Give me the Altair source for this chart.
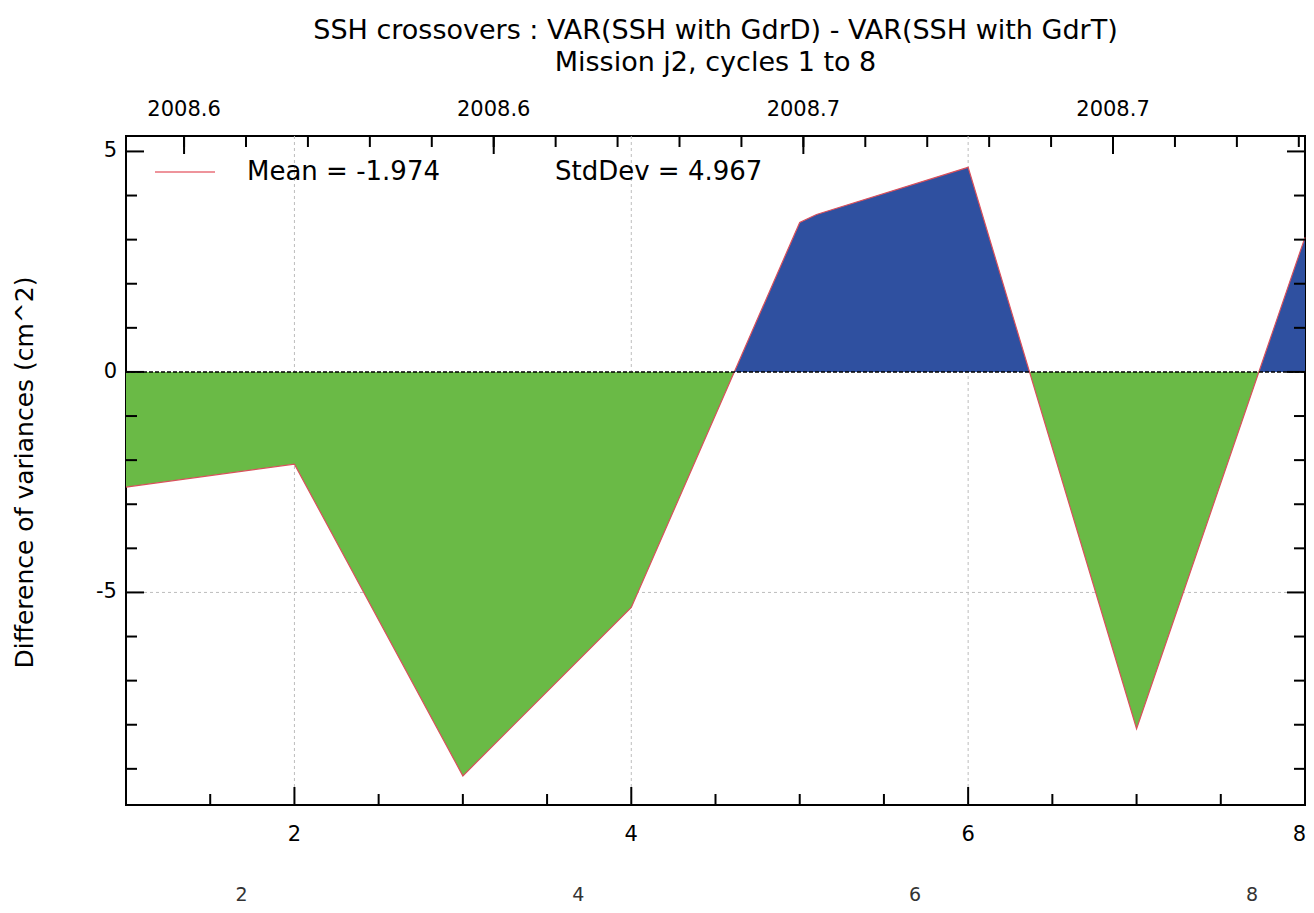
import altair as alt
import pandas as pd
import numpy as np

# ---- data ----
CYCLES = [1, 2, 3, 4, 5, 5.1, 6, 7, 8]
DIFF_VAR = [-2.61, -2.09, -9.16, -5.34, 3.39, 3.57, 4.64, -8.09, 3.05]

X_TICKS = [2, 4, 6, 8]
Y_TICKS = [-5, 0, 5]
Y_TICK_LABELS = ["-5", "0", "5"]
TOP_TICKS = [2008.58, 2008.62, 2008.66, 2008.70]   # decimal-year labels of the top axis
TOP_DOMAIN = [2008.5725, 2008.7248]                 # dates at cycle 1 and cycle 8
X_DOMAIN = [1, 8]
Y_DOMAIN = [-9.82, 5.35]

TITLE = ["SSH crossovers : VAR(SSH with GdrD) - VAR(SSH with GdrT)",
         "Mission j2, cycles 1 to 8"]
Y_TITLE = "Difference of variances (cm^2)"
MEAN_LABEL = "Mean = -1.974"
STD_LABEL = "StdDev = 4.967"

W, H = 1179, 669
FONT = "DejaVu Sans"
GREEN = "#6aba46"
BLUE = "#2f50a0"
LINE = "#d9505c"
TICK_FS = 21

# ---- split the series into positive / negative pieces at zero crossings ----
rows = []
seg = 0
for i, (x, y) in enumerate(zip(CYCLES, DIFF_VAR)):
    if i > 0:
        x0, y0 = CYCLES[i - 1], DIFF_VAR[i - 1]
        if (y0 < 0) != (y < 0):
            xc = x0 + (0 - y0) * (x - x0) / (y - y0)
            rows.append(dict(x=xc, y=0.0, seg=seg))
            seg += 1
            rows.append(dict(x=xc, y=0.0, seg=seg))
    rows.append(dict(x=x, y=y, seg=seg))
area_df = pd.DataFrame(rows)
sign = area_df.groupby("seg")["y"].agg(lambda s: "pos" if s.max() > 0 else "neg")
area_df["sign"] = area_df["seg"].map(sign)
line_df = pd.DataFrame({"x": CYCLES, "y": DIFF_VAR})


def date_to_cycle(d):
    return X_DOMAIN[0] + (d - TOP_DOMAIN[0]) / (TOP_DOMAIN[1] - TOP_DOMAIN[0]) * (X_DOMAIN[1] - X_DOMAIN[0])


xs = alt.Scale(domain=X_DOMAIN, nice=False, zero=False)
ys = alt.Scale(domain=Y_DOMAIN, nice=False, zero=False)

# grid
vgrid = alt.Chart(pd.DataFrame({"v": [2, 4, 6]})).mark_rule(
    color="#bdbdbd", strokeDash=[3, 3], strokeWidth=1).encode(
    x=alt.X("v:Q", scale=xs, axis=None))
hgrid = alt.Chart(pd.DataFrame({"v": [-5]})).mark_rule(
    color="#bdbdbd", strokeDash=[3, 3], strokeWidth=1).encode(
    y=alt.Y("v:Q", scale=ys, axis=None))

areas = alt.Chart(area_df).mark_area(opacity=1).encode(
    x=alt.X("x:Q", scale=xs, axis=None),
    y=alt.Y("y:Q", scale=ys, axis=None, stack=None),
    y2=alt.datum(0),
    color=alt.Color("sign:N", scale=alt.Scale(domain=["neg", "pos"], range=[GREEN, BLUE]),
                    legend=None),
    detail="seg:N",
)
line = alt.Chart(line_df).mark_line(color=LINE, strokeWidth=1.2).encode(
    x=alt.X("x:Q", scale=xs, axis=None), y=alt.Y("y:Q", scale=ys, axis=None))
zero = alt.Chart(pd.DataFrame({"v": [0]})).mark_rule(
    color="black", strokeDash=[4, 2], strokeWidth=1.6).encode(
    y=alt.Y("v:Q", scale=ys, axis=None))

# inward ticks
bx_major = [2, 4, 6]
bx_minor = [float(v) for v in np.arange(1.5, 8.0, 0.5) if v not in bx_major]
y_major = [-5, 0, 5]
y_minor = [v for v in range(-9, 6) if v not in y_major]
top_major_c = [date_to_cycle(d) for d in TOP_TICKS]
top_minor_c = [date_to_cycle(TOP_TICKS[0] + 0.008 * k) for k in range(0, 19)]
top_minor_c = [c for c in top_minor_c if c <= X_DOMAIN[1]]


def xticks(vals, length, top=False):
    y0 = 0 if top else H
    y1 = length if top else H - length
    return alt.Chart(pd.DataFrame({"v": vals})).mark_rule(color="black", strokeWidth=2).encode(
        x=alt.X("v:Q", scale=xs, axis=None), y=alt.value(y0), y2=alt.value(y1))


def yticks(vals, length, right=False):
    x0 = W if right else 0
    x1 = W - length if right else length
    return alt.Chart(pd.DataFrame({"v": vals})).mark_rule(color="black", strokeWidth=2).encode(
        y=alt.Y("v:Q", scale=ys, axis=None), x=alt.value(x0), x2=alt.value(x1))


# tick labels (placed through the scales)
bottom_labels = alt.Chart(pd.DataFrame({"v": X_TICKS[:-1]})).mark_text(
    fontSize=TICK_FS, font=FONT, color="black", baseline="middle").encode(
    x=alt.X("v:Q", scale=xs, axis=None), y=alt.value(H + 30), text=alt.Text("v:Q", format="d"))
bottom_last = alt.Chart(pd.DataFrame({"v": X_TICKS[-1:]})).mark_text(
    fontSize=TICK_FS, font=FONT, color="black", baseline="middle", align="right", dx=1).encode(
    x=alt.X("v:Q", scale=xs, axis=None), y=alt.value(H + 30), text=alt.Text("v:Q", format="d"))
left_labels = alt.Chart(pd.DataFrame({"v": Y_TICKS, "t": Y_TICK_LABELS})).mark_text(
    fontSize=TICK_FS, font=FONT, color="black", baseline="middle", align="right").encode(
    y=alt.Y("v:Q", scale=ys, axis=None), x=alt.value(-9), text="t:N")
top_labels = alt.Chart(pd.DataFrame({"c": top_major_c, "d": TOP_TICKS})).mark_text(
    fontSize=TICK_FS, font=FONT, color="black", baseline="middle").encode(
    x=alt.X("c:Q", scale=xs, axis=None), y=alt.value(-26), text=alt.Text("d:Q", format=".1f"))
second_row = alt.Chart(pd.DataFrame({"v": X_TICKS})).mark_text(
    fontSize=19, font=FONT, color="#333333", dx=-53, baseline="middle").encode(
    x=alt.X("v:Q", scale=xs, axis=None), y=alt.value(759), text=alt.Text("v:Q", format="d"))
y_title = alt.Chart(pd.DataFrame({"t": [Y_TITLE]})).mark_text(
    fontSize=25, font=FONT, color="black", angle=270, baseline="middle", align="center").encode(
    x=alt.value(-101), y=alt.value(H / 2 + 2), text="t:N")

leg_line = alt.Chart(pd.DataFrame({"a": [0]})).mark_rule(color="#e8707a", strokeWidth=1.5).encode(
    x=alt.value(29), x2=alt.value(89), y=alt.value(36))
leg_mean = alt.Chart(pd.DataFrame({"t": [MEAN_LABEL]})).mark_text(
    fontSize=26, font=FONT, align="left", baseline="middle", color="black").encode(
    x=alt.value(121), y=alt.value(36), text="t:N")
leg_std = alt.Chart(pd.DataFrame({"t": [STD_LABEL]})).mark_text(
    fontSize=26, font=FONT, align="left", baseline="middle", color="black").encode(
    x=alt.value(429), y=alt.value(36), text="t:N")

chart = alt.layer(
    vgrid, hgrid, areas, line, zero,
    xticks(bx_major, 18), xticks(bx_minor, 11),
    xticks(top_major_c, 18, True), xticks(top_minor_c, 11, True),
    yticks(y_major, 18), yticks(y_minor, 11),
    yticks(y_major, 18, True), yticks(y_minor, 11, True),
    bottom_labels, bottom_last, left_labels, top_labels, second_row, y_title,
    leg_line, leg_mean, leg_std,
).properties(
    width=W, height=H,
    title=alt.TitleParams(text=TITLE, fontSize=27, font=FONT, fontWeight="normal",
                          anchor="middle", color="black", lineHeight=32, offset=22),
    autosize=alt.AutoSizeParams(type="none"),
    padding={"left": 118, "top": 128, "right": 1, "bottom": 99},
).configure_view(stroke="black", strokeWidth=2)

chart.save("out.html", embed_options={"renderer": "svg", "actions": False})
